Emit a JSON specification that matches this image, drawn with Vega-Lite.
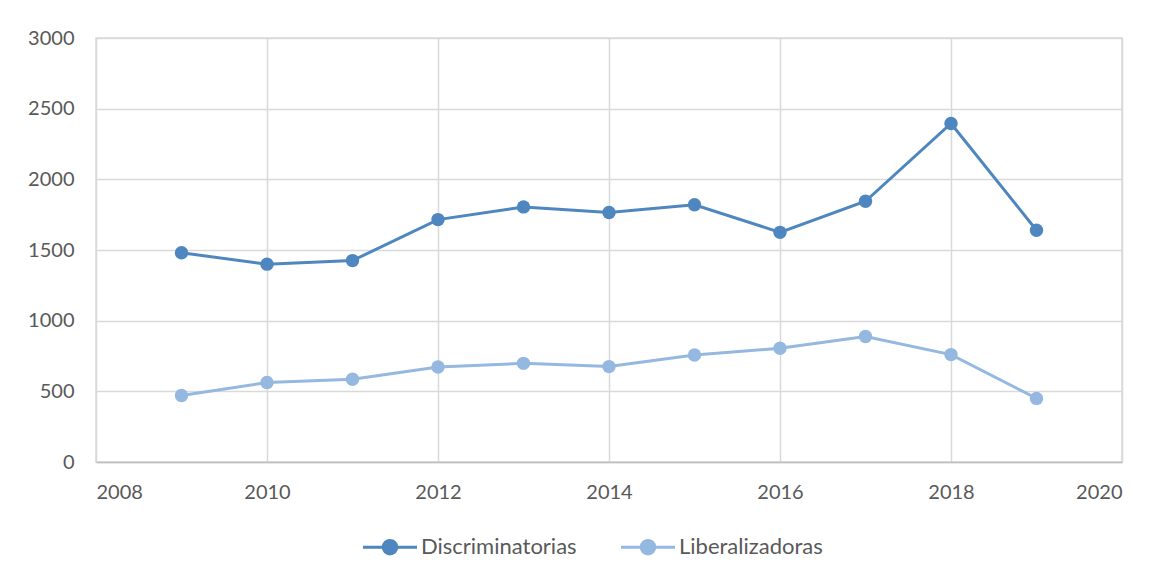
{
  "$schema": "https://vega.github.io/schema/vega-lite/v6.json",
  "autosize": "none",
  "width": 1026,
  "height": 424,
  "padding": {"left": 96, "top": 38, "right": 41, "bottom": 115},
  "background": "white",
  "config": {
    "font": "Lato",
    "view": {"stroke": "#d9d9d9", "strokeWidth": 1.5},
    "axis": {"labelFont": "Lato", "labelFontSize": 20, "labelColor": "#595959", "domainColor": "#bfbfbf", "domainWidth": 1.5, "gridColor": "#d9d9d9", "gridWidth": 1.5, "ticks": false, "title": null}
  },
  "data": {"values": [
    {"year": 2009, "serie": "Discriminatorias", "value": 1480},
    {"year": 2010, "serie": "Discriminatorias", "value": 1400},
    {"year": 2011, "serie": "Discriminatorias", "value": 1425},
    {"year": 2012, "serie": "Discriminatorias", "value": 1715},
    {"year": 2013, "serie": "Discriminatorias", "value": 1805},
    {"year": 2014, "serie": "Discriminatorias", "value": 1765},
    {"year": 2015, "serie": "Discriminatorias", "value": 1820},
    {"year": 2016, "serie": "Discriminatorias", "value": 1625},
    {"year": 2017, "serie": "Discriminatorias", "value": 1845},
    {"year": 2018, "serie": "Discriminatorias", "value": 2395},
    {"year": 2019, "serie": "Discriminatorias", "value": 1640},
    {"year": 2009, "serie": "Liberalizadoras", "value": 470},
    {"year": 2010, "serie": "Liberalizadoras", "value": 562},
    {"year": 2011, "serie": "Liberalizadoras", "value": 585},
    {"year": 2012, "serie": "Liberalizadoras", "value": 672},
    {"year": 2013, "serie": "Liberalizadoras", "value": 698},
    {"year": 2014, "serie": "Liberalizadoras", "value": 675},
    {"year": 2015, "serie": "Liberalizadoras", "value": 757},
    {"year": 2016, "serie": "Liberalizadoras", "value": 805},
    {"year": 2017, "serie": "Liberalizadoras", "value": 888},
    {"year": 2018, "serie": "Liberalizadoras", "value": 760},
    {"year": 2019, "serie": "Liberalizadoras", "value": 450}
  ]},
  "mark": {"type": "line", "strokeWidth": 3, "point": {"filled": true, "size": 180, "opacity": 1}},
  "encoding": {
    "x": {"field": "year", "type": "quantitative", "scale": {"domain": [2008, 2020], "nice": false, "zero": false},
      "axis": {"values": [2008, 2010, 2012, 2014, 2016, 2018, 2020], "format": "d", "labelPadding": 20, "grid": true, "domain": true}},
    "y": {"field": "value", "type": "quantitative", "scale": {"domain": [0, 3000], "nice": false},
      "axis": {"values": [0, 500, 1000, 1500, 2000, 2500, 3000], "format": "d", "labelPadding": 22, "grid": true, "domain": false}},
    "color": {"field": "serie", "type": "nominal",
      "scale": {"domain": ["Discriminatorias", "Liberalizadoras"], "range": ["#4e87bf", "#95b8e0"]},
      "legend": {"title": null, "orient": "none", "direction": "horizontal", "legendX": 279, "legendY": 494,
        "labelFont": "Lato", "labelFontSize": 22, "labelColor": "#595959",
        "symbolType": "M-2,0H-0.5M0.5,0H2M-0.5,0A0.5,0.5 0 1,0 0.5,0A0.5,0.5 0 1,0 -0.5,0Z",
        "symbolSize": 729, "symbolStrokeWidth": 3, "labelOffset": 16, "columnPadding": 38,
        "encode": {"symbols": {"update": {"fill": {"scale": "color", "field": "value"}, "stroke": {"scale": "color", "field": "value"}, "opacity": {"value": 1}}}}}
    }
  }
}
